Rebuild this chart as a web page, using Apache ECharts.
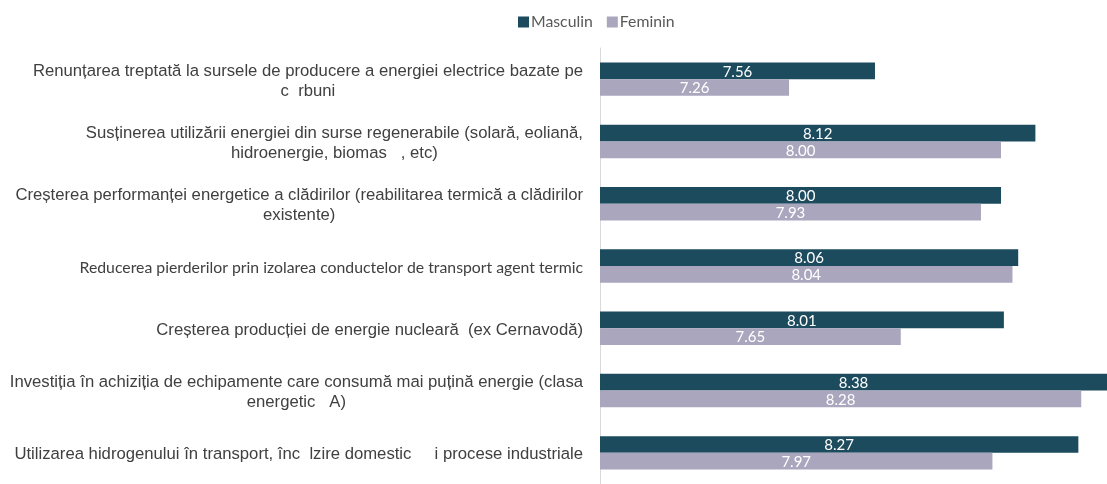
<!DOCTYPE html>
<html>
<head>
<meta charset="utf-8">
<script src="https://cdn.jsdelivr.net/npm/echarts@6/dist/echarts.min.js"></script>
<style>
  html, body { margin: 0; padding: 0; background: #ffffff; }
  #chart { width: 1107px; height: 484px; }
</style>
</head>
<body>
<div id="chart"></div>
<script>
// Survey measures (rows, top to bottom)
const categories = [
  'Renunțarea treptată la sursele de producere a energiei electrice bazate pe\nc  rbuni',
  'Susținerea utilizării energiei din surse regenerabile (solară, eoliană,\nhidroenergie, biomas   , etc)',
  'Creșterea performanței energetice a clădirilor (reabilitarea termică a clădirilor\nexistente)',
  'Reducerea pierderilor prin izolarea conductelor de transport agent termic',
  'Creșterea producției de energie nucleară  (ex Cernavodă)',
  'Investiția în achiziția de echipamente care consumă mai puțină energie (clasa\nenergetic   A)',
  'Utilizarea hidrogenului în transport, înc  lzire domestic     i procese industriale'
];
const seriesNames = ['Masculin', 'Feminin'];
const masculin = [7.56, 8.12, 8.00, 8.06, 8.01, 8.38, 8.27];
const feminin  = [7.26, 8.00, 7.93, 8.04, 7.65, 8.28, 7.97];

const chart = echarts.init(document.getElementById('chart'), null, { renderer: 'canvas' });

const barLabel = {
  show: true,
  position: 'inside',
  color: '#ffffff',
  fontFamily: 'Lato, "Open Sans", sans-serif',
  fontSize: 15,
  offset: [0, 1],
  formatter: p => p.value.toFixed(2)
};

chart.setOption({
  animation: false,
  backgroundColor: '#ffffff',
  legend: {
    top: 9,
    left: 513,
    icon: 'rect',
    itemWidth: 11,
    itemHeight: 11,
    itemGap: 14,
    textStyle: { color: '#595959', fontSize: 15.8, fontFamily: 'Lato, sans-serif', padding: [0, 0, 0, -3] },
    data: seriesNames
  },
  grid: { left: 600, top: 48, right: 0, height: 445, containLabel: false },
  xAxis: {
    type: 'value',
    min: 6.6,
    max: 8.37,
    show: false
  },
  yAxis: {
    type: 'category',
    inverse: true,
    data: categories,
    axisLine: { show: true, lineStyle: { color: '#D9D9D9', width: 1 } },
    axisTick: { show: false },
    axisLabel: {
      margin: 17,
      color: '#404040',
      padding: [4, 0, 0, 0],
      formatter: (value) => {
        const style = value.startsWith('Reducerea') ? 'k' : 'a';
        return value.split('\n').map(line => '{' + style + '|' + line + '}').join('\n');
      },
      rich: {
        a: { align: 'center', fontFamily: '"Liberation Sans", Arial, sans-serif', fontSize: 16.7, lineHeight: 20, color: '#404040' },
        k: { align: 'center', fontFamily: 'Lato, sans-serif', fontSize: 15.8, lineHeight: 20, color: '#404040' }
      }
    }
  },
  series: [
    {
      name: seriesNames[0],
      type: 'bar',
      data: masculin,
      barWidth: 16.7,
      barGap: '0%',
      itemStyle: { color: '#1D4B5E' },
      label: barLabel
    },
    {
      name: seriesNames[1],
      type: 'bar',
      data: feminin,
      barWidth: 16.7,
      barGap: '0%',
      itemStyle: { color: '#AAA6BE' },
      label: barLabel
    }
  ]
});
</script>
</body>
</html>
